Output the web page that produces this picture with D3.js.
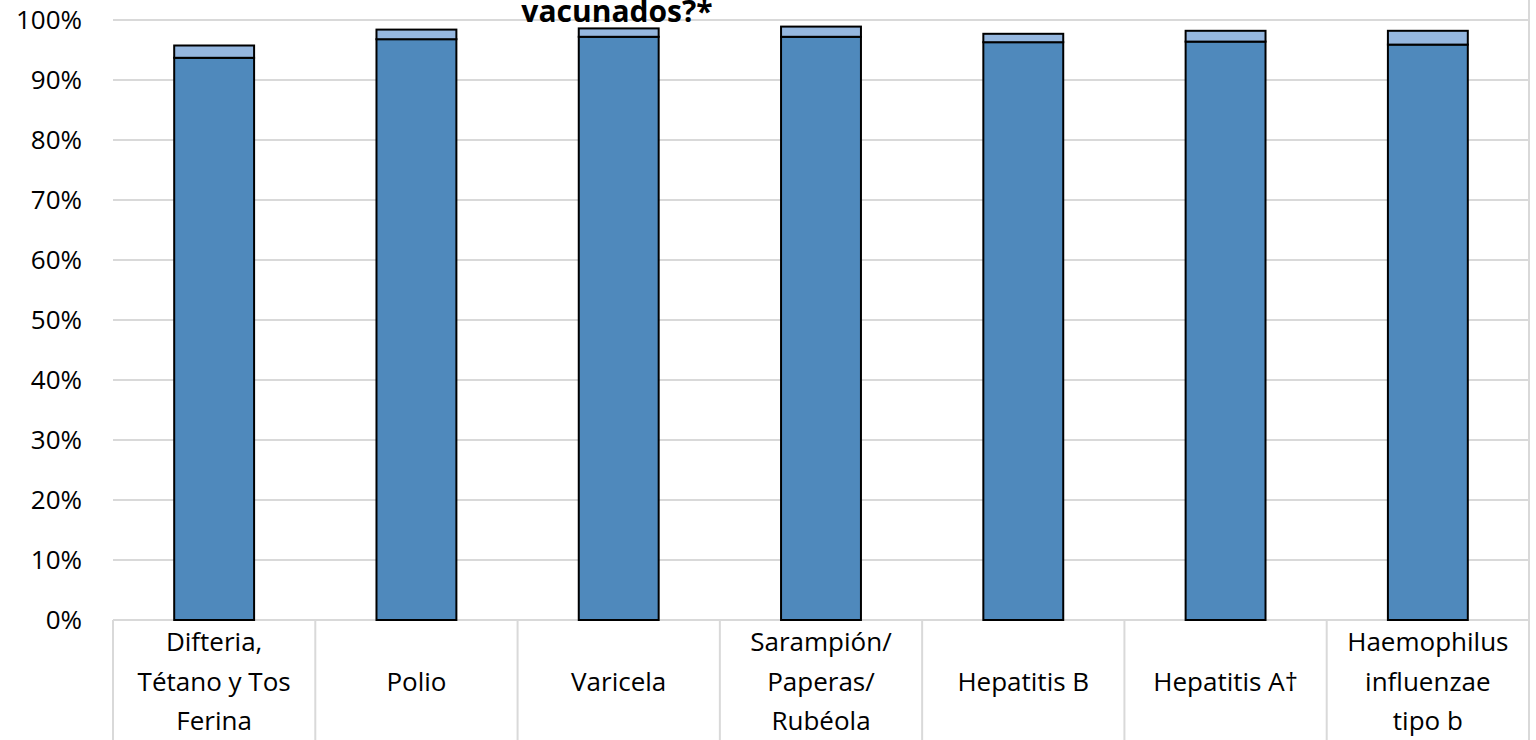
<!DOCTYPE html>
<html><head><meta charset="utf-8">
<script src="https://cdn.jsdelivr.net/npm/d3@7"></script>
<style>body{margin:0;background:#fff;}svg{display:block;}</style>
</head><body>
<svg id="c" width="1536" height="740"></svg>
<script>
const categories = [
  ["Difteria,", "Tétano y Tos", "Ferina"],
  ["Polio"],
  ["Varicela"],
  ["Sarampión/", "Paperas/", "Rubéola"],
  ["Hepatitis B"],
  ["Hepatitis A†"],
  ["Haemophilus", "influenzae", "tipo b"]
];
const seriesDark = [93.7, 96.8, 97.2, 97.2, 96.3, 96.4, 95.9];
const seriesLight = [2.05, 1.6, 1.4, 1.7, 1.4, 1.8, 2.3];
const yTicks = [0,10,20,30,40,50,60,70,80,90,100];
const titleText = "vacunados?*";

(function(){
const svg = d3.select("#c");
const mLeft = 113, mRight = 1529, mTop = 20, mBottom = 620;
const font = "'Open Sans', Lato, sans-serif";

const x = d3.scaleBand().domain(d3.range(categories.length)).range([mLeft, mRight])
  .paddingInner(0.605).paddingOuter(0.3025);
const xb = d3.scaleBand().domain(d3.range(categories.length)).range([mLeft, mRight]).padding(0);
const y = d3.scaleLinear().domain([0,100]).range([mBottom, mTop]);

svg.append("g").selectAll("line").data(yTicks).join("line")
  .attr("x1", mLeft).attr("x2", mRight)
  .attr("y1", d => y(d)).attr("y2", d => y(d))
  .attr("stroke", "#d9d9d9").attr("stroke-width", 2);

svg.append("line").attr("x1", mRight).attr("x2", mRight).attr("y1", 0).attr("y2", 740)
  .attr("stroke", "#d9d9d9").attr("stroke-width", 2);

const bounds = d3.range(categories.length).map(i => xb(i)).concat([mRight]);
svg.append("g").selectAll("line").data(bounds).join("line")
  .attr("x1", d => d).attr("x2", d => d).attr("y1", mBottom).attr("y2", 740)
  .attr("stroke", "#d9d9d9").attr("stroke-width", 2);

svg.append("g").selectAll("text").data(yTicks).join("text")
  .attr("x", 82).attr("y", d => y(d)).attr("dy", "0.36em")
  .attr("text-anchor", "end").attr("font-family", font).attr("font-size", 26)
  .attr("fill", "#000").text(d => d + "%");

const g = svg.append("g");
g.selectAll("rect.dark").data(seriesDark).join("rect").attr("class","dark")
  .attr("x", (d,i) => x(i)).attr("width", x.bandwidth())
  .attr("y", d => y(d)).attr("height", d => y(0) - y(d))
  .attr("fill", "#4f89bc").attr("stroke", "#000").attr("stroke-width", 2);
g.selectAll("rect.light").data(seriesLight).join("rect").attr("class","light")
  .attr("x", (d,i) => x(i)).attr("width", x.bandwidth())
  .attr("y", (d,i) => y(seriesDark[i] + d)).attr("height", (d,i) => y(seriesDark[i]) - y(seriesDark[i] + d))
  .attr("fill", "#95b7df").attr("stroke", "#000").attr("stroke-width", 2);

const lab = svg.append("g").selectAll("text").data(categories).join("text")
  .attr("text-anchor", "middle").attr("font-family", font).attr("font-size", 26).attr("fill", "#000");
lab.each(function(lines, i) {
  const t = d3.select(this);
  const cx = xb(i) + xb.bandwidth()/2;
  const lh = 39.5;
  const start = 681.5 - (lines.length - 1) * lh / 2;
  lines.forEach((s, k) => {
    t.append("tspan").attr("x", cx).attr("y", start + k*lh).attr("dy", "0.36em").text(s);
  });
});

svg.append("text").attr("x", 617).attr("y", 21.5).attr("text-anchor", "middle")
  .attr("font-family", font).attr("font-weight", "bold").attr("font-size", 30)
  .attr("fill", "#000").text(titleText);
})();
</script>
</body></html>
